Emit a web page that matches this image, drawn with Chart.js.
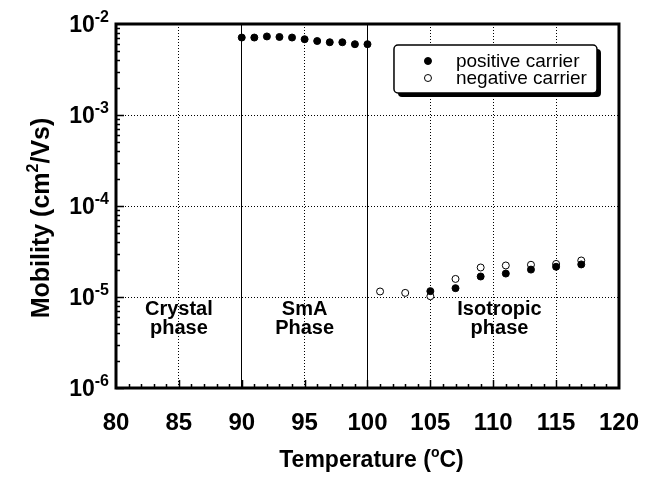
<!DOCTYPE html>
<html>
<head>
<meta charset="utf-8">
<script src="https://cdn.jsdelivr.net/npm/chart.js@4.4.0/dist/chart.umd.min.js"></script>
<style>
  html, body { margin: 0; padding: 0; background: #fff; }
</style>
</head>
<body>
<canvas id="chart" width="660" height="478"></canvas>
<script>
// SmA phase, positive carrier mobility (cm2/Vs)
const smaTemps = [90, 91, 92, 93, 94, 95, 96, 97, 98, 99, 100];
const smaPositive = [7.1e-3, 7.1e-3, 7.3e-3, 7.2e-3, 7.1e-3, 6.8e-3, 6.5e-3, 6.3e-3, 6.3e-3, 6.0e-3, 6.0e-3];

// isotropic phase
const isoPosTemps = [105, 107, 109, 111, 113, 115, 117];
const isoPositive = [1.16e-5, 1.25e-5, 1.68e-5, 1.81e-5, 2.0e-5, 2.15e-5, 2.28e-5];
const negTemps = [101, 103, 105, 107, 109, 111, 113, 115, 117];
const negMobility = [1.15e-5, 1.11e-5, 1.02e-5, 1.58e-5, 2.11e-5, 2.22e-5, 2.26e-5, 2.31e-5, 2.52e-5];

const yDecades = [-6, -5, -4, -3, -2];
const phaseBounds = [90, 100];
const phaseNames = [['Crystal', 'phase'], ['SmA', 'Phase'], ['Isotropic', 'phase']];
const phaseCenters = [85, 95, 110.5];
const seriesNames = ['positive carrier', 'negative carrier'];

const FONT = '"Liberation Sans", Arial, Helvetica, sans-serif';

const posData = smaTemps.map((t, i) => ({x: t, y: smaPositive[i]}))
  .concat(isoPosTemps.map((t, i) => ({x: t, y: isoPositive[i]})));
const negData = negTemps.map((t, i) => ({x: t, y: negMobility[i]}));

function isDecade(v) {
  const l = Math.log10(v);
  return Math.abs(l - Math.round(l)) < 1e-6;
}

// draws text pieces [text, size, rise, weight]
function drawRich(ctx, parts, x, y, align) {
  let w = 0;
  parts.forEach(p => {
    ctx.font = (p[3] || 'bold') + ' ' + p[1] + 'px ' + FONT;
    w += ctx.measureText(p[0]).width;
  });
  let cx = align === 'right' ? x - w : align === 'center' ? x - w / 2 : x;
  ctx.textAlign = 'left';
  ctx.textBaseline = 'alphabetic';
  parts.forEach(p => {
    ctx.font = (p[3] || 'bold') + ' ' + p[1] + 'px ' + FONT;
    ctx.fillText(p[0], cx, y - p[2]);
    cx += ctx.measureText(p[0]).width;
  });
}

const decor = {
  id: 'decor',
  afterDraw(chart) {
    const ctx = chart.ctx;
    const ca = chart.chartArea;
    const xs = chart.scales.x, ys = chart.scales.y;
    ctx.save();
    ctx.fillStyle = '#000';
    ctx.strokeStyle = '#000';

    // inward ticks
    ctx.lineWidth = 1.5;
    ctx.beginPath();
    for (let t = 81; t < 120; t++) {
      const px = Math.round(xs.getPixelForValue(t)) + 0.5;
      const len = t % 5 === 0 ? 8 : 4;
      ctx.moveTo(px, ca.bottom);
      ctx.lineTo(px, ca.bottom - len);
    }
    for (let d = -6; d < -2; d++) {
      for (let m = 1; m < 10; m++) {
        const py = Math.round(ys.getPixelForValue(m * Math.pow(10, d))) + 0.5;
        const len = m === 1 ? 8 : 4;
        ctx.moveTo(ca.left, py);
        ctx.lineTo(ca.left + len, py);
      }
    }
    ctx.stroke();

    // frame
    ctx.lineWidth = 3;
    ctx.strokeRect(ca.left, ca.top, ca.right - ca.left, ca.bottom - ca.top);

    // y tick labels 10^n
    yDecades.forEach(d => {
      const py = ys.getPixelForValue(Math.pow(10, d));
      drawRich(ctx, [['10', 23, 0], ['-' + (-d), 16, 10]], ca.left - 7, py + 8, 'right');
    });

    // axis titles
    drawRich(ctx, [['Temperature (', 23, 0], ['o', 14, 10], ['C)', 23, 0]], (ca.left + ca.right) / 2 + 4, 467, 'center');
    ctx.save();
    ctx.translate(49, 218);
    ctx.rotate(-Math.PI / 2);
    drawRich(ctx, [['Mobility (cm', 25, 0], ['2', 16, 11], ['/Vs)', 25, 0]], 0, 0, 'center');
    ctx.restore();

    // phase labels
    const y5 = ys.getPixelForValue(1e-5);
    phaseNames.forEach((lines, i) => {
      const px = xs.getPixelForValue(phaseCenters[i]);
      drawRich(ctx, [[lines[0], 20, 0]], px, y5 + 18, 'center');
      drawRich(ctx, [[lines[1], 20, 0]], px, y5 + 37, 'center');
    });

    // legend box with shadow
    const bx = ca.right - 225, by = ca.top + 21, bw = 203, bh = 48;
    ctx.beginPath();
    ctx.roundRect(bx + 4, by + 4, bw, bh, 4);
    ctx.fill();
    ctx.beginPath();
    ctx.roundRect(bx, by, bw, bh, 4);
    ctx.fillStyle = '#fff';
    ctx.fill();
    ctx.lineWidth = 1.5;
    ctx.stroke();
    const rows = [by + 16, by + 33];
    chart.data.datasets.forEach((ds, i) => {
      ctx.beginPath();
      ctx.arc(bx + 34, rows[i], 3.5, 0, Math.PI * 2);
      ctx.fillStyle = ds.pointBackgroundColor;
      ctx.fill();
      ctx.lineWidth = 1;
      ctx.stroke();
      ctx.fillStyle = '#000';
      drawRich(ctx, [[seriesNames[i], 19, 0, 'normal']], bx + 62, rows[i] + 6, 'left');
    });
    ctx.restore();
  }
};

new Chart(document.getElementById('chart'), {
  type: 'scatter',
  data: {
    datasets: [
      {
        label: seriesNames[0],
        data: posData,
        pointRadius: 3.5,
        pointBackgroundColor: '#000',
        pointBorderColor: '#000',
        pointBorderWidth: 1,
        order: 0
      },
      {
        label: seriesNames[1],
        data: negData,
        pointRadius: 3.5,
        pointBackgroundColor: '#fff',
        pointBorderColor: '#000',
        pointBorderWidth: 1,
        order: 1
      }
    ]
  },
  options: {
    responsive: false,
    animation: false,
    layout: { padding: { top: 24, right: 30, left: 0, bottom: 0 } },
    plugins: {
      legend: { display: false },
      tooltip: { enabled: false }
    },
    scales: {
      x: {
        type: 'linear',
        min: 80,
        max: 120,
        afterFit: s => { s.height = 90; },
        ticks: {
          stepSize: 5,
          color: '#000',
          padding: 21,
          font: { family: FONT, size: 24, weight: 'bold' }
        },
        grid: {
          drawTicks: false,
          lineWidth: 1,
          color: ctx => {
            if (!ctx.tick || ctx.tick.value <= 80 || ctx.tick.value >= 120) return 'rgba(0,0,0,0)';
            return '#000';
          }
        },
        border: {
          display: false,
          dash: ctx => (ctx.tick && phaseBounds.includes(ctx.tick.value)) ? [] : [1, 2]
        }
      },
      y: {
        type: 'logarithmic',
        min: 1e-6,
        max: 1e-2,
        afterFit: s => { s.width = 116; },
        ticks: { display: false },
        grid: {
          drawTicks: false,
          lineWidth: 1,
          color: ctx => {
            if (!ctx.tick) return 'rgba(0,0,0,0)';
            const v = ctx.tick.value;
            if (!isDecade(v) || v <= 1.0001e-6 || v >= 0.9999e-2) return 'rgba(0,0,0,0)';
            return '#000';
          }
        },
        border: { display: false, dash: [1, 2] }
      }
    }
  },
  plugins: [decor]
});
</script>
</body>
</html>
